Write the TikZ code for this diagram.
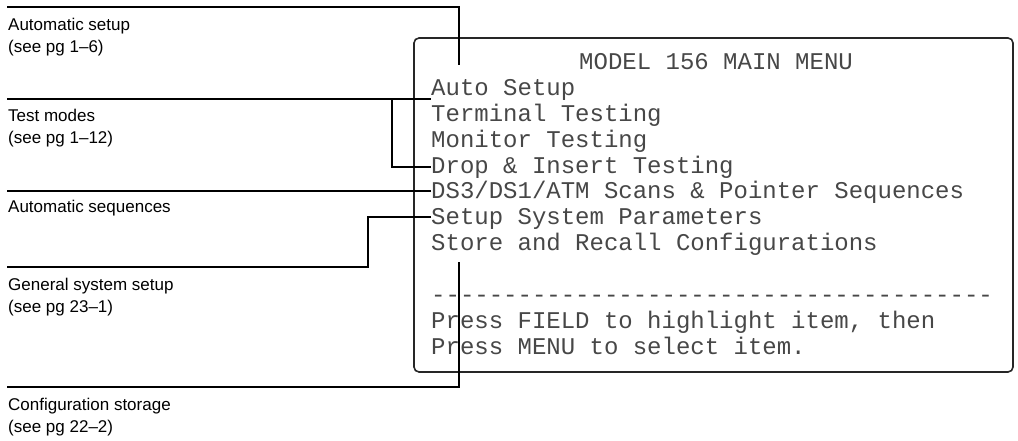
\documentclass[tikz,border=0pt]{standalone}
\usepackage{fontspec}
\setmainfont{Liberation Sans}
\newfontfamily\lcdfont{Liberation Mono}
\begin{document}
\begin{tikzpicture}[x=1pt,y=-1pt,
  conn/.style={line width=2pt, black},
  lab/.style={anchor=north west, inner sep=0pt, align=left,
    font=\fontsize{17}{22}\selectfont},
  menu/.style={anchor=base west, inner sep=0pt, text height=15pt, text depth=0pt,
    font=\lcdfont\fontsize{24}{26}\selectfont, text=black!72},
  screenbox/.style={draw=black!85, line width=1.6pt, rounded corners=5pt,
    minimum width=599pt, minimum height=334pt, inner sep=0pt}]
\useasboundingbox (0,0) rectangle (1018,441);

% screen
\node[screenbox] (screen) at (713.5,205) {};

% menu rows
\node[menu] (m0) at (579,69.5) {MODEL 156 MAIN MENU};
\node[menu] (m1) at (431,95.4) {Auto Setup};
\node[menu] (m2) at (431,121.3) {Terminal Testing};
\node[menu] (m3) at (431,147.2) {Monitor Testing};
\node[menu] (m4) at (431,173.1) {Drop \& Insert Testing};
\node[menu] (m5) at (431,199) {DS3/DS1/ATM Scans \& Pointer Sequences};
\node[menu] (m6) at (431,224.9) {Setup System Parameters};
\node[menu] (m7) at (431,250.8) {Store and Recall Configurations};
\node[menu] (m9) at (431,302.6) {---------------------------------------};
\node[menu] (m10) at (431,328.5) {Press FIELD to highlight item, then};
\node[menu] (m11) at (431,354.4) {Press MENU to select item.};

% labels
\node[lab] (l1) at (8,18) {Automatic setup\\(see pg 1--6)};
\node[lab] (l2) at (8,109) {Test modes\\(see pg 1--12)};
\node[lab] (l3) at (8,200) {Automatic sequences};
\node[lab] (l4) at (8,278) {General system setup\\(see pg 23--1)};
\node[lab] (l5) at (8,398) {Configuration storage\\(see pg 22--2)};

% connector free ends
\coordinate (s1) at (7,7);
\coordinate (s2) at (7,99);
\coordinate (s4) at (7,267);
\coordinate (s5) at (7,387);
\coordinate (e1) at (459,65);
\coordinate (e5) at (459,262);
\coordinate (b2) at (392,99);
\coordinate (k6) at (368,267);

% connectors
\draw[conn] (s1) -| (e1);
\draw[conn] (s2) -- (s2 -| m2.west);
\draw[conn] (b2) |- ([yshift=-1pt]m4.west);
\draw[conn] (m5.west) -- (m5.west -| s1);
\draw[conn] (m6.west) -| (k6) -- (s4);
\draw[conn] (s5) -| (e5);
\end{tikzpicture}
\end{document}
